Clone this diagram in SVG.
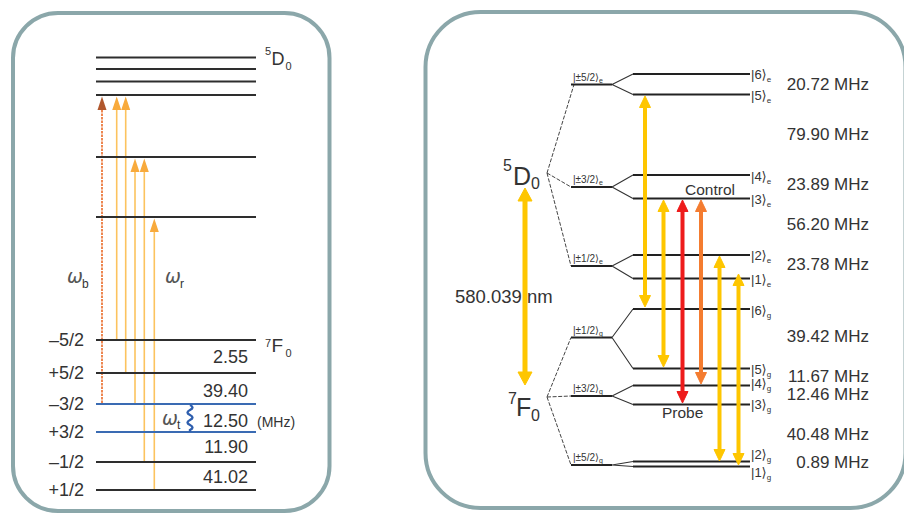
<svg xmlns="http://www.w3.org/2000/svg" width="904" height="514" viewBox="0 0 904 514">
<style>
.panel{fill:#fff;stroke:#8ba7aa;stroke-width:4}
.lvl{stroke:#2e2e2e;stroke-width:2.2}
.blv{stroke:#3a6bb3;stroke-width:2.2}
.rl{stroke:#222;stroke-width:2.2}
.t{font-family:"Liberation Sans","DejaVu Sans",sans-serif;fill:#333}
.st{font-family:"Liberation Sans","DejaVu Sans",sans-serif;fill:#333;font-size:13px}
.sm{font-family:"Liberation Sans","DejaVu Sans",sans-serif;fill:#333;font-size:10px}
.mhz{font-family:"Liberation Sans","DejaVu Sans",sans-serif;fill:#333;font-size:17px;text-anchor:end}
.lab{font-family:"Liberation Sans","DejaVu Sans",sans-serif;fill:#333;font-size:18px;text-anchor:end}
.fan{stroke:#333;stroke-width:1.1;fill:none}
.dash{stroke:#444;stroke-width:1;stroke-dasharray:4 1.6;fill:none}
.la{stroke:#fcc35e;stroke-width:1.6;fill:none}
.lah{fill:#f8aa3c}
.om{font-family:"DejaVu Sans","Liberation Sans",sans-serif;font-style:italic;fill:#555;font-size:19px}
.y{stroke:#fec600;fill:#fec600}
.r{stroke:#ee1c1c;fill:#ee1c1c}
.o{stroke:#f47c30;fill:#f47c30}
</style>
<rect width="904" height="514" fill="#fff"/>
<rect class="panel" x="13" y="13" width="316.5" height="498" rx="45"/>
<rect class="panel" x="425.5" y="12" width="480" height="496" rx="55"/>

<!-- LEFT PANEL -->
<g id="left-arrows">
  <line x1="102" y1="403" x2="102" y2="106" stroke="#ec7a3f" stroke-width="1.8" stroke-dasharray="2.5 1"/>
  <polygon points="102,96.5 97.5,110 106.5,110" fill="#b0572c"/>
  <line class="la" x1="116.7" y1="340" x2="116.7" y2="106"/>
  <polygon class="lah" points="116.7,96.5 112.2,110 121.2,110"/>
  <line class="la" x1="125.7" y1="373" x2="125.7" y2="106"/>
  <polygon class="lah" points="125.7,96.5 121.2,110 130.2,110"/>
  <line class="la" x1="135" y1="404" x2="135" y2="168"/>
  <polygon class="lah" points="135,158.5 130.5,172 139.5,172"/>
  <line class="la" x1="144.3" y1="462" x2="144.3" y2="168"/>
  <polygon class="lah" points="144.3,158.5 139.8,172 148.8,172"/>
  <line class="la" x1="154.3" y1="490" x2="154.3" y2="228"/>
  <polygon class="lah" points="154.3,218.5 149.8,232 158.8,232"/>
</g>
<g id="left-D0">
  <line class="lvl" x1="96" y1="57.5" x2="256" y2="57.5"/>
  <line class="lvl" x1="96" y1="69" x2="256" y2="69"/>
  <line class="lvl" x1="96" y1="81.5" x2="256" y2="81.5"/>
  <line class="lvl" x1="96" y1="95" x2="256" y2="95"/>
  <line class="lvl" x1="96" y1="157" x2="256" y2="157"/>
  <line class="lvl" x1="96" y1="217" x2="256" y2="217"/>
  <text class="t" x="265" y="55" font-size="11">5</text>
  <text class="t" x="271.5" y="64.5" font-size="18">D</text>
  <text class="t" x="285.5" y="69.5" font-size="11">0</text>
</g>
<g id="left-F0">
  <line class="lvl" x1="96" y1="340" x2="256" y2="340"/>
  <line class="lvl" x1="96" y1="373" x2="256" y2="373"/>
  <line class="blv" x1="96" y1="404" x2="256" y2="404"/>
  <line class="blv" x1="96" y1="432" x2="256" y2="432"/>
  <line class="lvl" x1="96" y1="462" x2="256" y2="462"/>
  <line class="lvl" x1="96" y1="490" x2="256" y2="490"/>
  <text class="t" x="265" y="347" font-size="11">7</text>
  <text class="t" x="271.5" y="352" font-size="19">F</text>
  <text class="t" x="285.5" y="357" font-size="11">0</text>
  <text class="lab" x="84" y="346">–5/2</text>
  <text class="lab" x="84" y="379">+5/2</text>
  <text class="lab" x="84" y="410">–3/2</text>
  <text class="lab" x="84" y="438">+3/2</text>
  <text class="lab" x="84" y="468">–1/2</text>
  <text class="lab" x="84" y="496">+1/2</text>
  <text class="lab" x="248" y="363">2.55</text>
  <text class="lab" x="248" y="397">39.40</text>
  <text class="lab" x="248" y="427">12.50</text>
  <text class="lab" x="248" y="453">11.90</text>
  <text class="lab" x="248" y="483">41.02</text>
  <text class="t" x="257" y="427" font-size="14">(MHz)</text>
</g>
<g id="left-omegas">
  <text class="om" x="67" y="283">ω</text><text class="t" x="82" y="288" font-size="12">b</text>
  <text class="om" x="165" y="283">ω</text><text class="t" x="180" y="288" font-size="12">r</text>
  <text class="om" x="162" y="425">ω</text><text class="t" x="177" y="429" font-size="12">t</text>
  <path d="M190 405 q5 2.5 0 5 q-5 2.5 0 5 q5 2.5 0 5 q-5 2.5 0 5 q5 2.5 0 5 l0 2" stroke="#2f5fae" stroke-width="2.4" fill="none"/>
</g>

<!-- RIGHT PANEL -->
<g id="connectors">
  <path class="dash" d="M547 173 L574 84.5"/>
  <path class="dash" d="M547 173 L571 187"/>
  <path class="dash" d="M547 173 L571 266"/>
  <path class="dash" d="M547 397 L571 337.5"/>
  <path class="dash" d="M547 397 L571 396"/>
  <path class="dash" d="M547 397 L571 465"/>
  <path class="fan" d="M612 84.5 L633 74 M612 84.5 L633 94.5"/>
  <path class="fan" d="M612 187 L633 175 M612 187 L633 198.5"/>
  <path class="fan" d="M612 266 L633 255 M612 266 L633 278.5"/>
  <path class="fan" d="M612 337.5 L633 309 M612 337.5 L633 368.5"/>
  <path class="fan" d="M612 396 L633 385.5 M612 396 L633 404.5"/>
  <path class="fan" d="M612 465 L633 461.5 M612 465 L633 466.5"/>
</g>
<g id="D0-levels">
  <text class="t" x="503" y="171" font-size="16">5</text>
  <text class="t" x="513" y="185" font-size="25">D</text>
  <text class="t" x="531" y="189" font-size="16">0</text>
  <line class="rl" x1="571" y1="84.5" x2="612" y2="84.5"/>
  <text class="sm" x="573" y="80.5">|±5/2⟩<tspan dy="2" font-size="7">e</tspan></text>
  <line class="rl" x1="571" y1="187" x2="612" y2="187"/>
  <text class="sm" x="573" y="182.5">|±3/2⟩<tspan dy="2" font-size="7">e</tspan></text>
  <line class="rl" x1="571" y1="266" x2="612" y2="266"/>
  <text class="sm" x="573" y="261.5">|±1/2⟩<tspan dy="2" font-size="7">e</tspan></text>
  <line class="rl" x1="633" y1="74" x2="750" y2="74"/>
  <line class="rl" x1="633" y1="94.5" x2="750" y2="94.5"/>
  <line class="rl" x1="633" y1="175" x2="750" y2="175"/>
  <line class="rl" x1="633" y1="198.5" x2="750" y2="198.5"/>
  <line class="rl" x1="633" y1="255" x2="750" y2="255"/>
  <line class="rl" x1="633" y1="278.5" x2="750" y2="278.5"/>
  <text class="st" x="751" y="79">|6⟩<tspan dy="3" font-size="8">e</tspan></text>
  <text class="st" x="751" y="99.5">|5⟩<tspan dy="3" font-size="8">e</tspan></text>
  <text class="st" x="751" y="181">|4⟩<tspan dy="3" font-size="8">e</tspan></text>
  <text class="st" x="751" y="203.5">|3⟩<tspan dy="3" font-size="8">e</tspan></text>
  <text class="st" x="751" y="260">|2⟩<tspan dy="3" font-size="8">e</tspan></text>
  <text class="st" x="751" y="283.5">|1⟩<tspan dy="3" font-size="8">e</tspan></text>
</g>
<g id="F0-levels">
  <text class="t" x="508" y="404" font-size="16">7</text>
  <text class="t" x="516" y="416" font-size="25">F</text>
  <text class="t" x="531" y="421" font-size="16">0</text>
  <line class="rl" x1="571" y1="337.5" x2="612" y2="337.5"/>
  <text class="sm" x="573" y="333.5">|±1/2⟩<tspan dy="2" font-size="7">g</tspan></text>
  <line class="rl" x1="571" y1="396" x2="612" y2="396"/>
  <text class="sm" x="573" y="391.5">|±3/2⟩<tspan dy="2" font-size="7">g</tspan></text>
  <line class="rl" x1="571" y1="465" x2="612" y2="465"/>
  <text class="sm" x="573" y="460.5">|±5/2⟩<tspan dy="2" font-size="7">g</tspan></text>
  <line class="rl" x1="633" y1="309" x2="750" y2="309"/>
  <line class="rl" x1="633" y1="368.5" x2="750" y2="368.5"/>
  <line class="rl" x1="633" y1="385.5" x2="750" y2="385.5"/>
  <line class="rl" x1="633" y1="404.5" x2="750" y2="404.5"/>
  <line class="rl" x1="633" y1="461.5" x2="750" y2="461.5" stroke-width="1.8"/>
  <line class="rl" x1="633" y1="466.5" x2="750" y2="466.5" stroke-width="1.8"/>
  <text class="st" x="751" y="315">|6⟩<tspan dy="3" font-size="8">g</tspan></text>
  <text class="st" x="751" y="374">|5⟩<tspan dy="3" font-size="8">g</tspan></text>
  <text class="st" x="751" y="388">|4⟩<tspan dy="3" font-size="8">g</tspan></text>
  <text class="st" x="751" y="409">|3⟩<tspan dy="3" font-size="8">g</tspan></text>
  <text class="st" x="751" y="459">|2⟩<tspan dy="3" font-size="8">g</tspan></text>
  <text class="st" x="751" y="477">|1⟩<tspan dy="3" font-size="8">g</tspan></text>
</g>
<g id="frequencies">
  <text class="mhz" x="869" y="90">20.72 MHz</text>
  <text class="mhz" x="869" y="140">79.90 MHz</text>
  <text class="mhz" x="869" y="190">23.89 MHz</text>
  <text class="mhz" x="869" y="230">56.20 MHz</text>
  <text class="mhz" x="869" y="270">23.78 MHz</text>
  <text class="mhz" x="869" y="342">39.42 MHz</text>
  <text class="mhz" x="869" y="382">11.67 MHz</text>
  <text class="mhz" x="869" y="400">12.46 MHz</text>
  <text class="mhz" x="869" y="440">40.48 MHz</text>
  <text class="mhz" x="869" y="468">0.89 MHz</text>
</g>
<g id="transitions">
  <line class="y" x1="525" y1="198" x2="525" y2="375" stroke-width="5"/>
  <polygon class="y" stroke="none" points="525,188 518,201 532,201"/>
  <polygon class="y" stroke="none" points="525,385 518,372 532,372"/>
  <text class="t" x="455" y="303" font-size="18.5">580.039 nm</text>

  <line class="y" x1="645" y1="105" x2="645" y2="298" stroke-width="4"/>
  <polygon class="y" stroke="none" points="645,96 639.5,107.5 650.5,107.5"/>
  <polygon class="y" stroke="none" points="645,307 639.5,295.5 650.5,295.5"/>

  <line class="y" x1="663.5" y1="209" x2="663.5" y2="358" stroke-width="4"/>
  <polygon class="y" stroke="none" points="663.5,200 658,211.5 669,211.5"/>
  <polygon class="y" stroke="none" points="663.5,367 658,355.5 669,355.5"/>

  <line class="r" x1="682.5" y1="209" x2="682.5" y2="394" stroke-width="4"/>
  <polygon class="r" stroke="none" points="682.5,200 677,211.5 688,211.5"/>
  <polygon class="r" stroke="none" points="682.5,403 677,391.5 688,391.5"/>

  <line class="o" x1="701" y1="209" x2="701" y2="375" stroke-width="4"/>
  <polygon class="o" stroke="none" points="701,200 695.5,211.5 706.5,211.5"/>
  <polygon class="o" stroke="none" points="701,384 695.5,372.5 706.5,372.5"/>

  <line class="y" x1="719.5" y1="265" x2="719.5" y2="452" stroke-width="4"/>
  <polygon class="y" stroke="none" points="719.5,256 714,267.5 725,267.5"/>
  <polygon class="y" stroke="none" points="719.5,461 714,449.5 725,449.5"/>

  <line class="y" x1="738.5" y1="283" x2="738.5" y2="456" stroke-width="4"/>
  <polygon class="y" stroke="none" points="738.5,274 733,285.5 744,285.5"/>
  <polygon class="y" stroke="none" points="738.5,465 733,453.5 744,453.5"/>

  <text class="t" x="685" y="195" font-size="15.5">Control</text>
  <text class="t" x="662" y="418" font-size="15.5">Probe</text>
</g>
</svg>
